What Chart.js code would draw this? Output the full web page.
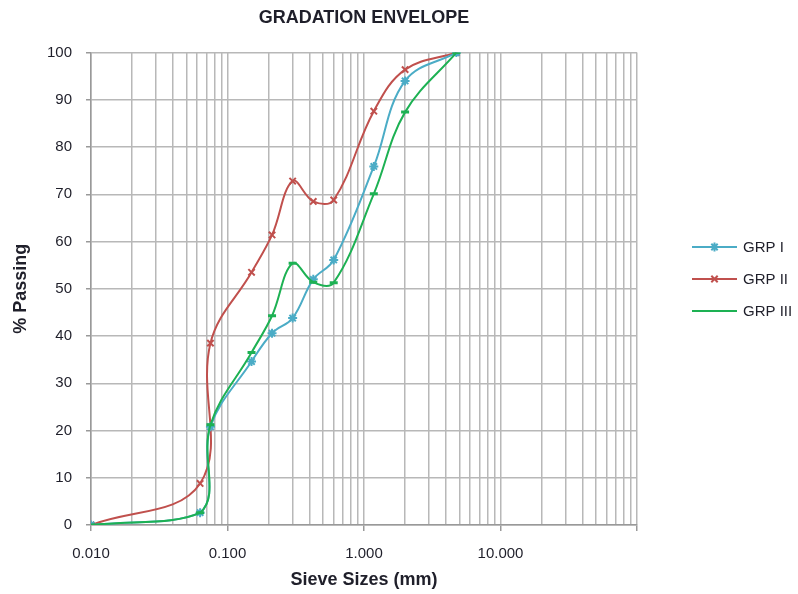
<!DOCTYPE html>
<html>
<head>
<meta charset="utf-8">
<title>Gradation Envelope</title>
<script src="https://cdn.jsdelivr.net/npm/chart.js@4.4.1/dist/chart.umd.min.js"></script>
<style>
  html, body { margin: 0; padding: 0; background: #fff; }
  #wrap { width: 798px; height: 594px; }
</style>
</head>
<body>
<div id="wrap"><canvas id="chart" width="798" height="594"></canvas></div>
<script>
// sieve sizes (mm) used by all three groups
const sieveSizes = [0.01, 0.063, 0.075, 0.15, 0.212, 0.3, 0.425, 0.6, 1.18, 2, 4.75];
// % passing for each group
const grp1 = [0, 2.6, 20.8, 34.6, 40.6, 43.8, 52, 56.1, 75.9, 94, 100];
const grp2 = [0, 8.8, 38.5, 53.5, 61.4, 72.8, 68.5, 68.8, 87.6, 96.4, 100];
const grp3 = [0, 2.6, 21.2, 36.5, 44.3, 55.4, 51.4, 51.3, 70.1, 87.4, 100];
const seriesNames = ["GRP I", "GRP II", "GRP III"];

// decade labels of the log axis (100 is left without label like the original)
const decadeValues = [0.01, 0.1, 1, 10, 100];
const xTickLabels = ["0.010", "0.100", "1.000", "10.000", ""];
const yTicks = [0, 10, 20, 30, 40, 50, 60, 70, 80, 90, 100];

const FONT = "'Liberation Sans', Arial, sans-serif";

function toPoints(values) {
  return sieveSizes.map((s, i) => ({ x: s, y: values[i] }));
}

function isDecade(v) {
  const l = Math.log10(v);
  return Math.abs(l - Math.round(l)) < 1e-6;
}

// gridlines at 1..9 x 10^n like the excel log axis
function logTicks() {
  const t = [];
  for (let e = -2; e <= 1; e++) {
    for (let m = 1; m <= 9; m++) {
      t.push({ value: Number((m * Math.pow(10, e)).toPrecision(6)) });
    }
  }
  t.push({ value: 100 });
  return t;
}

// legend drawn on the right: line + marker + text
const sideLegend = {
  id: "sideLegend",
  afterDraw(chart) {
    const ctx = chart.ctx;
    const rows = [247, 279, 311];
    chart.data.datasets.forEach((ds, i) => {
      const y = rows[i];
      ctx.save();
      ctx.strokeStyle = ds.borderColor;
      ctx.lineWidth = 2;
      ctx.beginPath();
      ctx.moveTo(692, y);
      ctx.lineTo(737, y);
      ctx.stroke();
      Chart.helpers.drawPoint(ctx, {
        pointStyle: ds.pointStyle,
        radius: ds.pointRadius,
        borderWidth: ds.pointBorderWidth,
        rotation: 0
      }, 714.5, y);
      ctx.fillStyle = "#1f1f2a";
      ctx.font = "15px " + FONT;
      ctx.textBaseline = "middle";
      ctx.textAlign = "left";
      ctx.fillText(seriesNames[i], 743, y + 1);
      ctx.restore();
    });
  }
};

const colors = ["#4BACC6", "#C0504D", "#1DB153"];
const styles = ["star", "crossRot", "line"];
const datasetValues = [grp1, grp2, grp3];
const drawOrder = [1, 2, 0];

const ctx = document.getElementById("chart").getContext("2d");

new Chart(ctx, {
  type: "scatter",
  data: {
    datasets: datasetValues.map((vals, i) => ({
      label: seriesNames[i],
      data: toPoints(vals),
      showLine: true,
      tension: 0.38,
      borderColor: colors[i],
      backgroundColor: colors[i],
      borderWidth: 2,
      pointStyle: styles[i],
      pointRadius: i === 2 ? 4 : 4.5,
      pointBorderWidth: i === 2 ? 3 : 2,
      pointBorderColor: colors[i],
      pointBackgroundColor: colors[i],
      order: drawOrder[i]
    }))
  },
  options: {
    responsive: false,
    animation: false,
    layout: { padding: { top: 0, left: 0, right: 161, bottom: 0 } },
    plugins: {
      legend: { display: false },
      tooltip: { enabled: false },
      title: {
        display: true,
        fullSize: false,
        text: "GRADATION ENVELOPE",
        color: "#1f1f2a",
        font: { family: FONT, size: 18, weight: "bold" },
        padding: { top: 7, bottom: 24 }
      }
    },
    scales: {
      x: {
        type: "logarithmic",
        position: "bottom",
        min: 0.01,
        max: 100,
        afterBuildTicks(scale) { scale.ticks = logTicks(); },
        afterFit(scale) { scale.height = 69; },
        border: { color: "#999", width: 1.5 },
        grid: {
          color: "#b8b8b8",
          lineWidth: 1.5,
          drawTicks: true,
          tickLength: 6,
          tickColor: (c) => (c.tick && isDecade(c.tick.value) ? "#999" : "rgba(0,0,0,0)")
        },
        ticks: {
          autoSkip: false,
          maxRotation: 0,
          minRotation: 0,
          padding: 14,
          color: "#1f1f2a",
          font: { family: FONT, size: 15 },
          callback(value) {
            const k = decadeValues.findIndex(d => Math.abs(d - value) < 1e-9);
            return k >= 0 ? xTickLabels[k] : "";
          }
        },
        title: {
          display: true,
          text: "Sieve Sizes (mm)",
          color: "#1f1f2a",
          font: { family: FONT, size: 18, weight: "bold" },
          padding: { top: 0, bottom: 3 }
        }
      },
      y: {
        min: 0,
        max: 100,
        afterBuildTicks(scale) { scale.ticks = yTicks.map(v => ({ value: v })); },
        afterFit(scale) { scale.width = 91; },
        border: { color: "#999", width: 1.5 },
        grid: {
          color: "#b8b8b8",
          lineWidth: 1.5,
          drawTicks: true,
          tickLength: 5,
          tickColor: "#999"
        },
        ticks: {
          padding: 14,
          color: "#1f1f2a",
          font: { family: FONT, size: 15 }
        },
        title: {
          display: true,
          text: "% Passing",
          color: "#1f1f2a",
          font: { family: FONT, size: 18, weight: "bold" },
          padding: { top: 10, bottom: 0 }
        }
      }
    }
  },
  plugins: [sideLegend]
});
</script>
</body>
</html>
